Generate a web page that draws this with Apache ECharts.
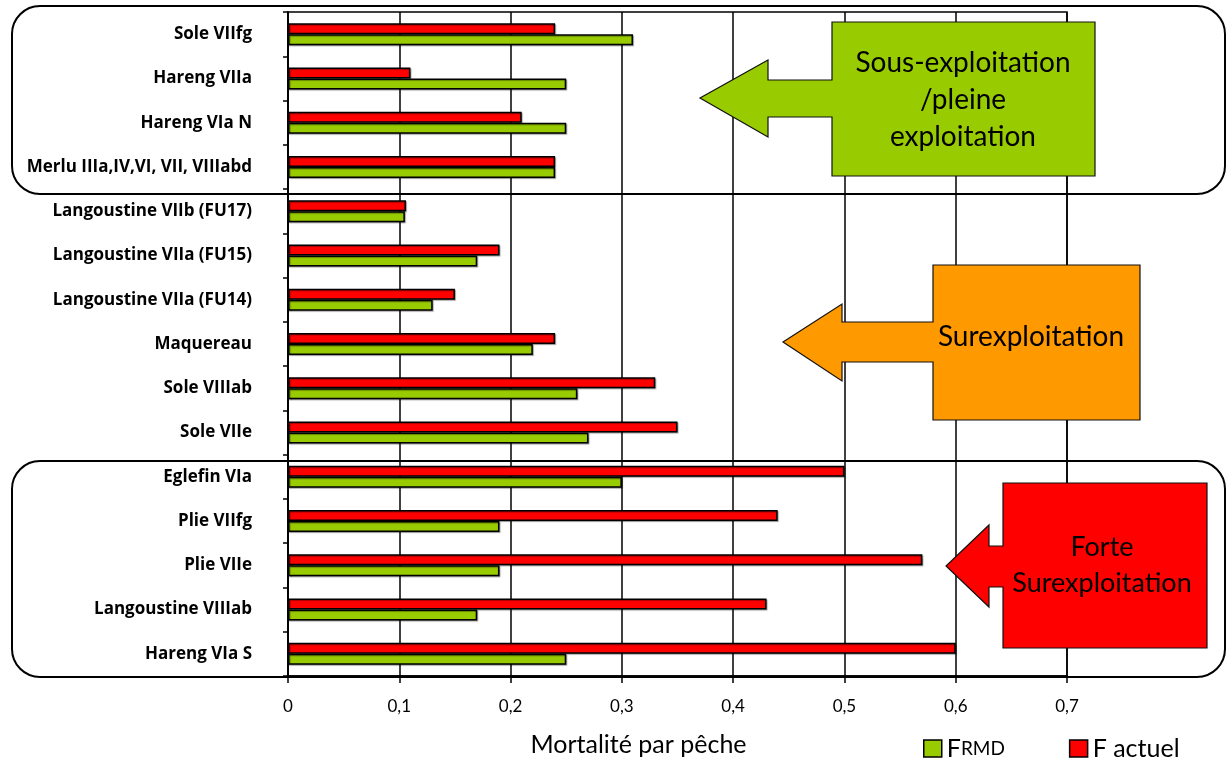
<!DOCTYPE html>
<html>
<head>
<meta charset="utf-8">
<script src="https://cdn.jsdelivr.net/npm/echarts@6/dist/echarts.min.js"></script>
<style>
html,body{margin:0;padding:0;background:#fff;}
#chart{width:1226px;height:762px;}
</style>
</head>
<body>
<div id="chart"></div>
<script>
const categories = ['Sole VIIfg','Hareng VIIa','Hareng VIa N','Merlu IIIa,IV,VI, VII, VIIIabd','Langoustine VIIb (FU17)','Langoustine VIIa (FU15)','Langoustine VIIa (FU14)','Maquereau','Sole VIIIab','Sole VIIe','Eglefin VIa','Plie VIIfg','Plie VIIe','Langoustine VIIIab','Hareng VIa S'];
const fActuel = [0.24,0.11,0.21,0.24,0.106,0.19,0.15,0.24,0.33,0.35,0.50,0.44,0.57,0.43,0.60];
const fRmd = [0.31,0.25,0.25,0.24,0.105,0.17,0.13,0.22,0.26,0.27,0.30,0.19,0.19,0.17,0.25];
const xTicks = ['0','0,1','0,2','0,3','0,4','0,5','0,6','0,7'];
const seriesNames = ['F actuel','FRMD'];
const axisTitle = 'Mortalité par pêche';
const zoneLabels = ['Sous-exploitation\n/pleine\nexploitation','Surexploitation','Forte\nSurexploitation'];

const FONT = "Lato, 'Open Sans', sans-serif";
const LABEL_FONT = "'Open Sans', Lato, sans-serif";
const chart = echarts.init(document.getElementById('chart'), null, {renderer:'canvas'});

const barStyle = (color) => ({
  color: color, borderColor:'#000', borderWidth:1.5,
  shadowColor:'rgba(0,0,0,0.35)', shadowOffsetX:1, shadowOffsetY:1, shadowBlur:1
});

chart.setOption({
  animation:false,
  backgroundColor:'#fff',
  grid:{left:288, right:159, top:12, bottom:86, show:true, borderColor:'#000', borderWidth:1.5, containLabel:false},
  legend:{
    data:[seriesNames[1], seriesNames[0]],
    left:923, top:736, padding:0, itemWidth:18, itemHeight:17, itemGap:64,
    icon:'rect',
    itemStyle:{borderColor:'#000', borderWidth:1.5},
    formatter:function(n){ return n === 'FRMD' ? '{a|F}{b|RMD}' : '{a|' + n + '}'; },
    textStyle:{fontFamily:FONT, fontSize:25, color:'#000',
      rich:{a:{fontFamily:FONT, fontSize:25, lineHeight:26, color:'#000'}, b:{fontFamily:FONT, fontSize:19, lineHeight:26, color:'#000'}}}
  },
  xAxis:{
    type:'value', min:0, max:0.7, interval:0.1,
    name:axisTitle, nameLocation:'middle', nameGap:56,
    nameTextStyle:{fontFamily:FONT, fontSize:25, color:'#000', padding:[0,78,0,0]},
    axisLine:{show:true, lineStyle:{color:'#000', width:1.5}},
    axisTick:{show:true, length:7, lineStyle:{color:'#000', width:1.5}},
    axisLabel:{margin:22, fontFamily:FONT, fontSize:17, color:'#000',
      formatter:function(v){ return xTicks[Math.round(v*10)]; }},
    splitLine:{show:true, lineStyle:{color:'#000', width:1.5}}
  },
  yAxis:{
    type:'category', data:categories, inverse:true,
    axisLine:{show:true, lineStyle:{color:'#000', width:1.5}},
    axisTick:{show:true, length:5, alignWithLabel:false, lineStyle:{color:'#000', width:1.5}},
    axisLabel:{margin:36, fontFamily:LABEL_FONT, fontSize:17, fontWeight:'bold', color:'#000', interval:0}
  },
  series:[
    {name:seriesNames[0], type:'bar', data:fActuel, barWidth:11, barGap:'0%', itemStyle:barStyle('#FF0000')},
    {name:seriesNames[1], type:'bar', data:fRmd, barWidth:11, barGap:'0%', itemStyle:barStyle('#99CC00')}
  ],
  graphic:[
    {type:'rect', z:100, shape:{x:12, y:6, width:1213, height:188, r:28}, style:{fill:'none', stroke:'#000', lineWidth:2}},
    {type:'rect', z:100, shape:{x:12, y:461, width:1213, height:216, r:28}, style:{fill:'none', stroke:'#000', lineWidth:2}},
    {type:'polygon', z:101, shape:{points:[[1095,22],[1095,176],[832,176],[832,117],[768,117],[768,137],[700,98],[768,60],[768,80],[832,80],[832,22]]},
      style:{fill:'#99CC00', stroke:'#111', lineWidth:1.2}},
    {type:'text', z:102, x:963, y:100, style:{text:zoneLabels[0], fontFamily:FONT, fontSize:28, lineHeight:37, fill:'#000', align:'center', verticalAlign:'middle'}},
    {type:'polygon', z:101, shape:{points:[[1140,265],[1140,420],[933,420],[933,362],[842,362],[842,381],[783,342],[842,304],[842,322],[933,322],[933,265]]},
      style:{fill:'#FF9900', stroke:'#111', lineWidth:1.2}},
    {type:'text', z:102, x:1031, y:337, style:{text:zoneLabels[1], fontFamily:FONT, fontSize:28, fill:'#000', align:'center', verticalAlign:'middle'}},
    {type:'polygon', z:101, shape:{points:[[1207,483],[1207,648],[1003,648],[1003,587],[989,587],[989,607],[946,566],[989,525],[989,546],[1003,546],[1003,483]]},
      style:{fill:'#FF0000', stroke:'#111', lineWidth:1.2}},
    {type:'text', z:102, x:1102, y:565, style:{text:zoneLabels[2], fontFamily:FONT, fontSize:27, lineHeight:36, fill:'#000', align:'center', verticalAlign:'middle'}}
  ]
});
</script>
</body>
</html>
